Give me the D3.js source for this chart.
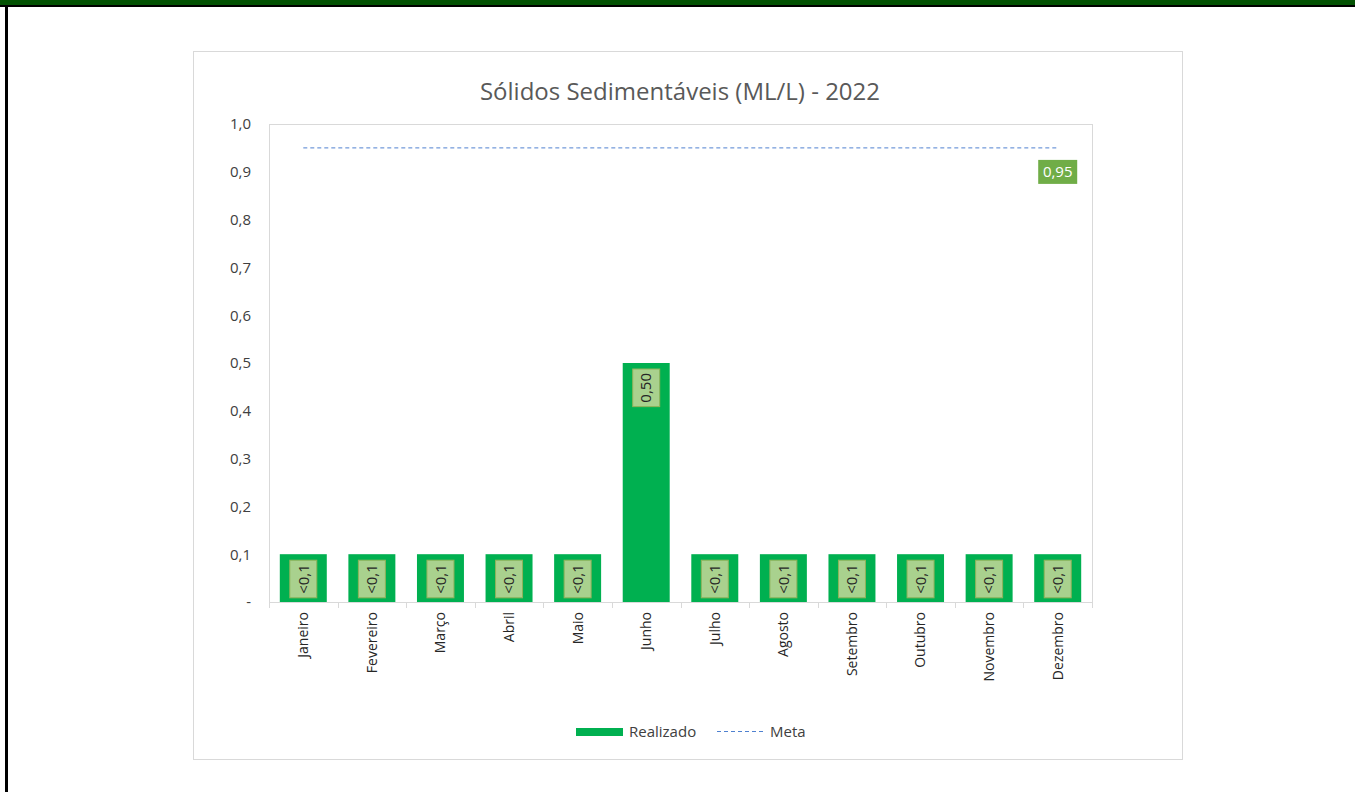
<!DOCTYPE html>
<html>
<head>
<meta charset="utf-8">
<script src="https://cdn.jsdelivr.net/npm/d3@7"></script>
<style>
  body { margin: 0; background: #fff; }
  svg { display: block; }
  svg text { font-family: "Open Sans", Lato, sans-serif; }
</style>
</head>
<body>
<svg id="chart" width="1355" height="792"></svg>
<script>
// data
const months = ["Janeiro", "Fevereiro", "Março", "Abril", "Maio", "Junho",
  "Julho", "Agosto", "Setembro", "Outubro", "Novembro", "Dezembro"];
const realizado = [0.1, 0.1, 0.1, 0.1, 0.1, 0.5, 0.1, 0.1, 0.1, 0.1, 0.1, 0.1];
const realizadoLabels = ["<0,1", "<0,1", "<0,1", "<0,1", "<0,1", "0,50",
  "<0,1", "<0,1", "<0,1", "<0,1", "<0,1", "<0,1"];
const meta = [0.95, 0.95, 0.95, 0.95, 0.95, 0.95, 0.95, 0.95, 0.95, 0.95, 0.95, 0.95];
const metaLabel = "0,95";
const yTicks = [0, 0.1, 0.2, 0.3, 0.4, 0.5, 0.6, 0.7, 0.8, 0.9, 1.0];
const title = "Sólidos Sedimentáveis (ML/L) - 2022";

const svg = d3.select("#chart");

// page frame: green strip on top, black edge on the left
svg.append("rect").attr("x", 0).attr("y", 0).attr("width", 1355).attr("height", 5).attr("fill", "#035203");
svg.append("rect").attr("x", 0).attr("y", 5).attr("width", 1355).attr("height", 2).attr("fill", "#000");
svg.append("rect").attr("x", 5).attr("y", 5).attr("width", 3).attr("height", 787).attr("fill", "#000");

// chart box
svg.append("rect").attr("x", 193.5).attr("y", 51.5).attr("width", 989).attr("height", 708)
  .attr("fill", "#fff").attr("stroke", "#d9d9d9").attr("stroke-width", 1);

// plot area
const pLeft = 269, pRight = 1092, pTop = 124, pBottom = 602;

const x = d3.scaleBand().domain(months).range([pLeft, pRight]).paddingInner(0.315).paddingOuter(0.1575);
const xb = d3.scaleBand().domain(months).range([pLeft, pRight]);
const y = d3.scaleLinear().domain([0, 1]).range([pBottom, pTop]);

// plot border lines
svg.append("line").attr("x1", pLeft + 0.5).attr("x2", pLeft + 0.5).attr("y1", pTop).attr("y2", pBottom)
  .attr("stroke", "#d9d9d9");
svg.append("line").attr("x1", pRight + 0.5).attr("x2", pRight + 0.5).attr("y1", pTop).attr("y2", pBottom)
  .attr("stroke", "#d9d9d9");
svg.append("line").attr("x1", pLeft).attr("x2", pRight).attr("y1", pTop + 0.5).attr("y2", pTop + 0.5)
  .attr("stroke", "#d9d9d9");

// Y axis labels
const yAxis = svg.append("g").attr("transform", "translate(" + (pLeft - 18) + ",0)")
  .call(d3.axisLeft(y).tickValues(yTicks).tickSize(0)
    .tickFormat(d => d === 0 ? "-" : d3.format(".1f")(d).replace(".", ",")));
yAxis.attr("font-family", null);
yAxis.select(".domain").remove();
yAxis.selectAll("text").attr("fill", "#404040").style("font-size", "15px").attr("x", 0);

// X axis
const xAxis = svg.append("g").attr("transform", "translate(0," + pBottom + ")")
  .call(d3.axisBottom(x).tickSize(0));
xAxis.attr("font-family", null);
xAxis.select(".domain").attr("stroke", "#d9d9d9").attr("d", "M" + pLeft + ",0.5H" + pRight);
xAxis.selectAll("text")
  .attr("fill", "#262626").style("font-size", "14px")
  .attr("text-anchor", "end")
  .attr("transform", "rotate(-90)")
  .attr("x", -10).attr("y", 0).attr("dy", "0.35em");

// tick marks between categories
svg.append("g").selectAll("line")
  .data(months.concat(["end"]))
  .enter().append("line")
  .attr("x1", (d, i) => Math.round(pLeft + xb.step() * i) + 0.5)
  .attr("x2", (d, i) => Math.round(pLeft + xb.step() * i) + 0.5)
  .attr("y1", pBottom).attr("y2", pBottom + 6)
  .attr("stroke", "#d9d9d9");

// bars
svg.append("g").selectAll("rect")
  .data(realizado).enter().append("rect")
  .attr("x", (d, i) => x(months[i]))
  .attr("y", d => y(d))
  .attr("width", x.bandwidth())
  .attr("height", d => pBottom - y(d))
  .attr("fill", "#00b050");

// bar labels (rotated, inside end)
const lbl = svg.append("g").selectAll("g")
  .data(realizado).enter().append("g")
  .attr("transform", (d, i) => "translate(" + (x(months[i]) + x.bandwidth() / 2) + "," + (y(d) + 6) + ")");
lbl.append("rect");
lbl.append("text")
  .text((d, i) => realizadoLabels[i])
  .attr("transform", "rotate(-90)")
  .attr("text-anchor", "end")
  .attr("x", -4).attr("dy", "0.35em")
  .attr("fill", "#262626").style("font-size", "15px");
lbl.each(function () {
  const g = d3.select(this);
  const len = g.select("text").node().getComputedTextLength();
  g.select("rect")
    .attr("x", -13.5).attr("y", 0)
    .attr("width", 27).attr("height", len + 8)
    .attr("fill", "#a9d18e").attr("stroke", "#8fb35a").attr("stroke-width", 1);
});

// meta line
const metaLine = d3.line()
  .x((d, i) => x(months[i]) + x.bandwidth() / 2)
  .y(d => y(d));
svg.append("path").datum(meta)
  .attr("d", metaLine)
  .attr("fill", "none")
  .attr("stroke", "#4f81d0")
  .attr("stroke-width", 1)
  .attr("stroke-dasharray", "4,3");

// meta label on the last point
const last = meta.length - 1;
const mx = x(months[last]) + x.bandwidth() / 2;
const my = y(meta[last]);
svg.append("rect").attr("x", mx - 19.5).attr("y", my + 12).attr("width", 39).attr("height", 24)
  .attr("fill", "#70ad47");
svg.append("text").attr("x", mx).attr("y", my + 24).attr("dy", "0.35em")
  .attr("text-anchor", "middle").attr("fill", "#fff").style("font-size", "15px")
  .text(metaLabel);

// title
svg.append("text").attr("x", 680).attr("y", 100)
  .attr("text-anchor", "middle").attr("fill", "#595959").style("font-size", "24px")
  .text(title);

// legend
const legend = svg.append("g");
legend.append("rect").attr("x", 576).attr("y", 728).attr("width", 47).attr("height", 8).attr("fill", "#00b050");
legend.append("text").attr("x", 629).attr("y", 732).attr("dy", "0.35em")
  .attr("fill", "#404040").style("font-size", "15px").text("Realizado");
legend.append("line").attr("x1", 717).attr("x2", 765).attr("y1", 731.5).attr("y2", 731.5)
  .attr("stroke", "#4f81d0").attr("stroke-dasharray", "4,3");
legend.append("text").attr("x", 770).attr("y", 732).attr("dy", "0.35em")
  .attr("fill", "#404040").style("font-size", "15px").text("Meta");
</script>
</body>
</html>
